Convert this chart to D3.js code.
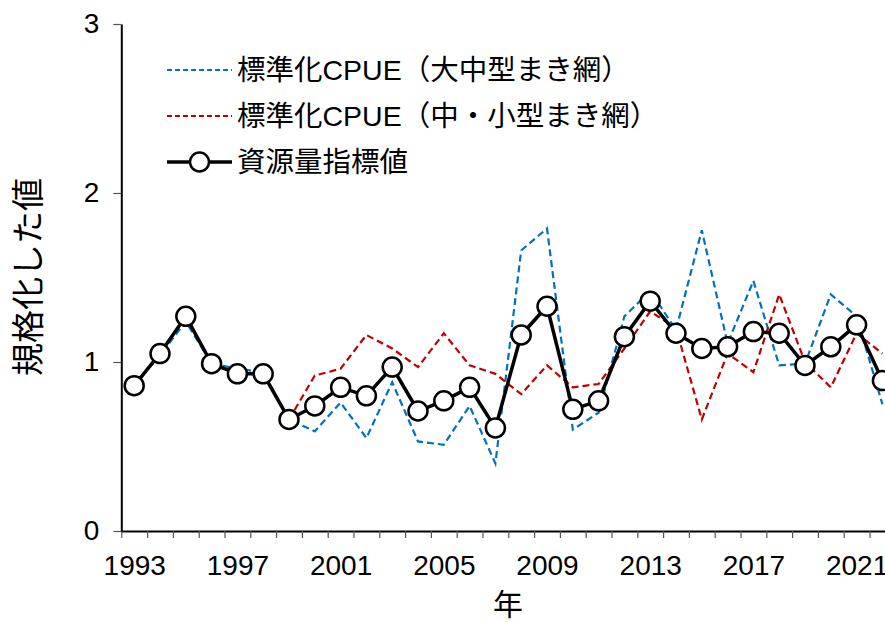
<!DOCTYPE html>
<html>
<head>
<meta charset="utf-8">
<script src="https://cdn.jsdelivr.net/npm/d3@7"></script>
<style>
  body { margin: 0; background: #fff; overflow: hidden; }
  text { font-family: "Liberation Sans", Arial, "Noto Sans CJK JP", sans-serif; fill: #000; }
</style>
</head>
<body>
<script>
// data
var years = d3.range(1993, 2023);
var index = [0.86, 1.05, 1.27, 0.99, 0.93, 0.93, 0.66, 0.74, 0.85, 0.80,
             0.97, 0.71, 0.77, 0.85, 0.61, 1.16, 1.33, 0.72, 0.77, 1.15,
             1.36, 1.17, 1.08, 1.09, 1.18, 1.17, 0.98, 1.09, 1.22, 0.89];
var cpueLarge = [0.86, 1.04, 1.24, 0.99, 0.96, 0.94, 0.66, 0.59, 0.76, 0.55,
                 0.88, 0.53, 0.51, 0.74, 0.40, 1.66, 1.79, 0.60, 0.70, 1.27,
                 1.42, 1.19, 1.78, 1.11, 1.48, 0.98, 0.99, 1.40, 1.27, 0.75];
// small/medium purse seine series starts in 1999
var cpueSmall = [null, null, null, null, null, null, 0.66, 0.92, 0.96, 1.16,
                 1.08, 0.97, 1.17, 0.98, 0.93, 0.81, 0.98, 0.85, 0.87, 1.08,
                 1.30, 1.20, 0.66, 1.05, 0.94, 1.40, 1.00, 0.85, 1.17, 1.05];
var labelYears = [1993, 1997, 2001, 2005, 2009, 2013, 2017, 2021];
var yTicks = [0, 1, 2, 3];
var legendLabels = ["標準化CPUE（大中型まき網）", "標準化CPUE（中・小型まき網）", "資源量指標値"];

var svgWidth = 885, svgHeight = 622;
var plotLeft = 121.3, bandW = 25.8;
var plotTop = 24, plotBottom = 531;

var svg = d3.select("body").append("svg")
  .attr("width", svgWidth)
  .attr("height", svgHeight);

var x = d3.scaleLinear()
  .domain([years[0] - 0.5, years[years.length - 1] + 0.5])
  .range([plotLeft, plotLeft + years.length * bandW]);

var y = d3.scaleLinear().domain([0, 3]).range([plotBottom, plotTop]);

// axes
var bounds = years.map(d => d - 0.5).concat([years[years.length - 1] + 0.5]);
var xAxis = svg.append("g")
  .attr("transform", `translate(0, ${plotBottom})`)
  .call(d3.axisBottom(x).tickValues(bounds).tickSize(7).tickFormat("").tickSizeOuter(0));
xAxis.select(".domain").attr("stroke", "#000").attr("stroke-width", 2);
xAxis.selectAll(".tick line").attr("stroke", "#555").attr("stroke-width", 1.2);

svg.append("g")
  .attr("transform", `translate(0, ${plotBottom})`)
  .call(d3.axisBottom(x).tickValues(labelYears).tickSize(0).tickPadding(24).tickFormat(d3.format("d")))
  .call(g => g.select(".domain").remove())
  .selectAll("text")
  .style("font-size", "28px");

var yAxis = svg.append("g")
  .attr("transform", `translate(${plotLeft}, 0)`)
  .call(d3.axisLeft(y).tickValues(yTicks).tickSize(8).tickPadding(14).tickSizeOuter(0).tickFormat(d3.format("d")));
yAxis.select(".domain").attr("stroke", "#000").attr("stroke-width", 2);
yAxis.selectAll(".tick line").attr("stroke", "#555").attr("stroke-width", 1.2);
yAxis.selectAll("text").style("font-size", "28px");

// axis titles
svg.append("text")
  .attr("x", 508)
  .attr("y", 615)
  .attr("text-anchor", "middle")
  .style("font-size", "30px")
  .text("年");

svg.append("text")
  .attr("transform", "translate(40, 277) rotate(-90)")
  .attr("text-anchor", "middle")
  .style("font-size", "33px")
  .text("規格化した値");

// lines
var line = d3.line()
  .defined(d => d[1] != null)
  .x(d => x(d[0]))
  .y(d => y(d[1]));

svg.append("path")
  .datum(years.map((yr, i) => [yr, cpueLarge[i]]))
  .attr("d", line)
  .attr("fill", "none")
  .attr("stroke", "#0070C0")
  .attr("stroke-width", 2.2)
  .attr("stroke-dasharray", "7,4");

svg.append("path")
  .datum(years.map((yr, i) => [yr, cpueSmall[i]]))
  .attr("d", line)
  .attr("fill", "none")
  .attr("stroke", "#C00000")
  .attr("stroke-width", 2.2)
  .attr("stroke-dasharray", "7,4");

var idxData = years.map((yr, i) => [yr, index[i]]);
svg.append("path")
  .datum(idxData)
  .attr("d", line)
  .attr("fill", "none")
  .attr("stroke", "#000")
  .attr("stroke-width", 3.5);

svg.selectAll("circle.pt")
  .data(idxData)
  .enter()
  .append("circle")
  .attr("class", "pt")
  .attr("cx", d => x(d[0]))
  .attr("cy", d => y(d[1]))
  .attr("r", 9.5)
  .attr("fill", "#fff")
  .attr("stroke", "#000")
  .attr("stroke-width", 2.5);

// legend
var legendY = [70, 116, 162];
var legend = svg.append("g");
legend.append("line")
  .attr("x1", 167).attr("x2", 232).attr("y1", legendY[0]).attr("y2", legendY[0])
  .attr("stroke", "#0070C0").attr("stroke-width", 2).attr("stroke-dasharray", "5,3");
legend.append("line")
  .attr("x1", 167).attr("x2", 232).attr("y1", legendY[1]).attr("y2", legendY[1])
  .attr("stroke", "#C00000").attr("stroke-width", 2).attr("stroke-dasharray", "5,3");
legend.append("line")
  .attr("x1", 167).attr("x2", 232).attr("y1", legendY[2]).attr("y2", legendY[2])
  .attr("stroke", "#000").attr("stroke-width", 3.5);
legend.append("circle")
  .attr("cx", 199.5).attr("cy", legendY[2]).attr("r", 9.5)
  .attr("fill", "#fff").attr("stroke", "#000").attr("stroke-width", 2.5);

legend.selectAll("text")
  .data(legendLabels)
  .enter()
  .append("text")
  .attr("x", 237)
  .attr("y", (d, i) => legendY[i])
  .attr("dy", "0.36em")
  .style("font-size", "28.5px")
  .text(d => d);
</script>
</body>
</html>
